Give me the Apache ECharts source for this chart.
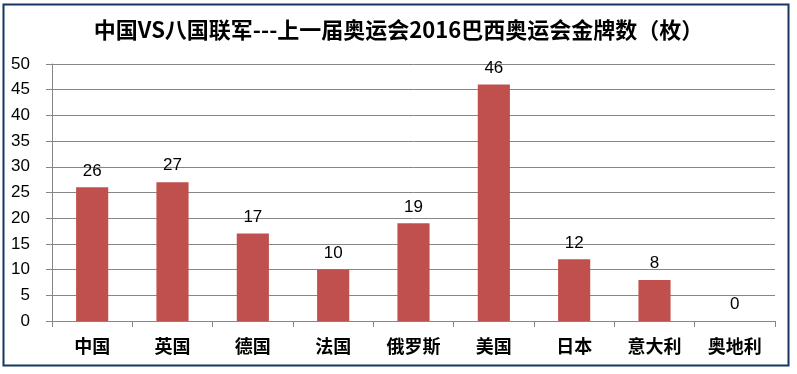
<!DOCTYPE html>
<html><head><meta charset="utf-8">
<script src="https://cdn.jsdelivr.net/npm/echarts@6/dist/echarts.min.js"></script>
<style>html,body{margin:0;padding:0;background:#fff}#c{width:797px;height:374px}</style>
</head><body><div id="c"></div>
<script>
const titleText = '中国VS八国联军---上一届奥运会2016巴西奥运会金牌数（枚）';
const categories = ['中国','英国','德国','法国','俄罗斯','美国','日本','意大利','奥地利'];
const goldMedals = [26,27,17,10,19,46,12,8,0];
const yTicks = {min:0, max:50, interval:5};

const chart = echarts.init(document.getElementById('c'), null, {renderer:'canvas'});
chart.setOption({
  animation:false,
  backgroundColor:'#fff',
  title:{text:titleText, left:'center', top:14,
    textStyle:{fontSize:22, fontWeight:'bold', color:'#000', fontFamily:'"Noto Sans CJK SC", sans-serif'}},
  graphic:[{type:'rect', shape:{x:3.5,y:4.5,width:785,height:361},
    style:{fill:'none', stroke:'#17375E', lineWidth:2}}],
  grid:{left:52, right:22, top:64, bottom:53, containLabel:false},
  xAxis:{type:'category', data:categories,
    axisLine:{lineStyle:{color:'#868686', width:1}},
    axisTick:{show:true, length:6, lineStyle:{color:'#868686'}},
    axisLabel:{fontSize:18, color:'#000', margin:16, fontWeight:'bold',
      fontFamily:'"Noto Sans CJK SC", sans-serif'}},
  yAxis:{type:'value', min:yTicks.min, max:yTicks.max, interval:yTicks.interval,
    axisLine:{show:true, lineStyle:{color:'#868686'}},
    axisTick:{show:true, length:6, lineStyle:{color:'#868686'}},
    splitLine:{lineStyle:{color:'#868686', width:1}},
    axisLabel:{fontSize:17, color:'#000', margin:22,
      fontFamily:'"Liberation Sans", Arial, sans-serif'}},
  series:[{type:'bar', data:goldMedals, barWidth:'40%',
    itemStyle:{color:'#C0504D'},
    label:{show:true, position:'top', fontSize:17, color:'#000', distance:8,
      fontFamily:'"Liberation Sans", Arial, sans-serif'}}]
});
</script></body></html>
